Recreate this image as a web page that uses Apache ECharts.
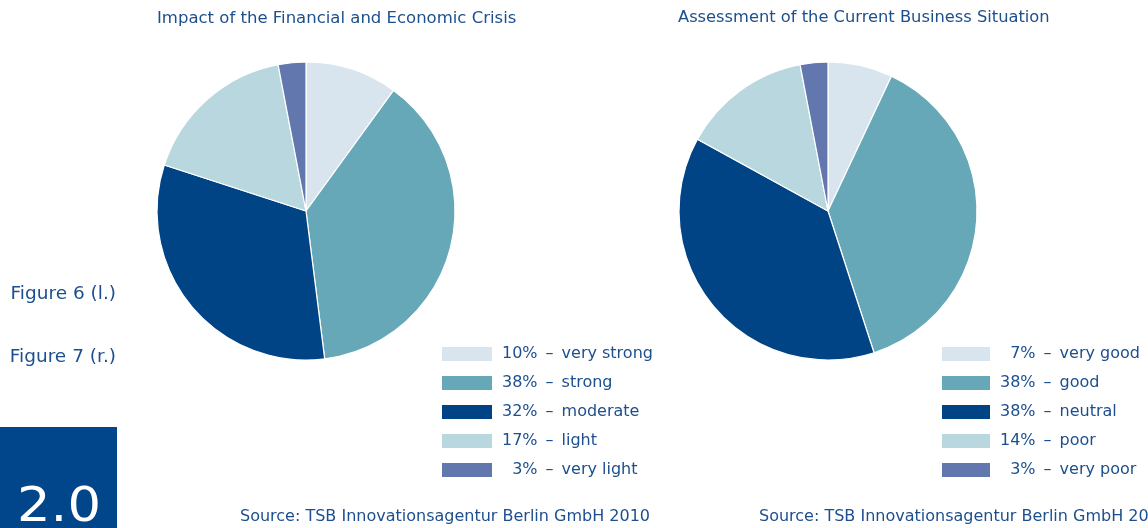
<!DOCTYPE html>
<html><head><meta charset="utf-8">
<script src="https://cdn.jsdelivr.net/npm/echarts@6/dist/echarts.min.js"></script>
<style>html,body{margin:0;padding:0;background:#fff}#c{width:1148px;height:528px}</style>
</head><body><div id="c"></div>
<script>
const leftTitle = 'Impact of the Financial and Economic Crisis';
const rightTitle = 'Assessment of the Current Business Situation';
const leftNames = ['very strong','strong','moderate','light','very light'];
const leftValues = [10,38,32,17,3];
const rightNames = ['very good','good','neutral','poor','very poor'];
const rightValues = [7,38,38,14,3];
const colors = ['#d9e5ee','#66a8b8','#014486','#b9d7df','#6277ae'];
const sourceText = 'Source: TSB Innovationsagentur Berlin GmbH 2010';
const textColor = '#1d4f8e';
const font = 'DejaVu Sans';

const chart = echarts.init(document.getElementById('c'));
const lookup = {};
leftNames.forEach((n,i)=>lookup[n]=leftValues[i]);
rightNames.forEach((n,i)=>lookup[n]=rightValues[i]);
const fmt = n => {
  const v = String(lookup[n]);
  const pad = v.length < 2 ? '\u2007' : '';
  return '{p|' + pad + v + '%}{d|–}{t|' + n + '}';
};
function rich(){
  return {
    p:{fontSize:16,lineHeight:16,color:textColor,fontFamily:font,padding:[0,0,0,4]},
    d:{width:24,align:'center',fontSize:16,lineHeight:16,color:textColor,fontFamily:font},
    t:{fontSize:16,lineHeight:16,color:textColor,fontFamily:font}
  };
}
function legend(names,left,iw){
  return {data:names,orient:'vertical',left:left,top:345,padding:0,itemWidth:iw,itemHeight:16,itemGap:11,
    icon:'rect',formatter:fmt,textStyle:{rich:rich(),lineHeight:16},selectedMode:false};
}
function pie(names,values,cx){
  return {type:'pie',center:[cx,211],radius:[0,149],startAngle:90,clockwise:true,
    label:{show:false},labelLine:{show:false},silent:true,animation:false,
    itemStyle:{borderColor:'#fff',borderWidth:1.2},
    data:names.map((n,i)=>({name:n,value:values[i],itemStyle:{color:colors[i]}}))};
}
chart.setOption({
  animation:false,
  title:[
    {text:leftTitle,left:152,top:5,textStyle:{fontSize:16.5,fontWeight:'normal',color:textColor,fontFamily:font}},
    {text:rightTitle,left:673,top:5,textStyle:{fontSize:16.3,fontWeight:'normal',color:textColor,fontFamily:font}}
  ],
  legend:[legend(leftNames,440,52),legend(rightNames,940,50)],
  series:[pie(leftNames,leftValues,306),pie(rightNames,rightValues,828)],
  graphic:[
    {type:'text',right:1148-116,top:285,style:{text:'Figure 6 (l.)',fontSize:18.5,fill:textColor,fontFamily:font}},
    {type:'text',right:1148-116,top:348,style:{text:'Figure 7 (r.)',fontSize:18.5,fill:textColor,fontFamily:font}},
    {type:'rect',left:0,top:427,shape:{width:117,height:101},style:{fill:'#01458a'}},
    {type:'text',left:17,top:485,scaleX:1.1,style:{text:'2.0',fontSize:48,fill:'#fff',fontFamily:'DejaVu Sans',fontWeight:'normal'}},
    {type:'text',left:240,top:509,style:{text:sourceText,fontSize:16,fill:textColor,fontFamily:font}},
    {type:'text',left:759,top:509,style:{text:sourceText,fontSize:16,fill:textColor,fontFamily:font}}
  ]
});
</script></body></html>
